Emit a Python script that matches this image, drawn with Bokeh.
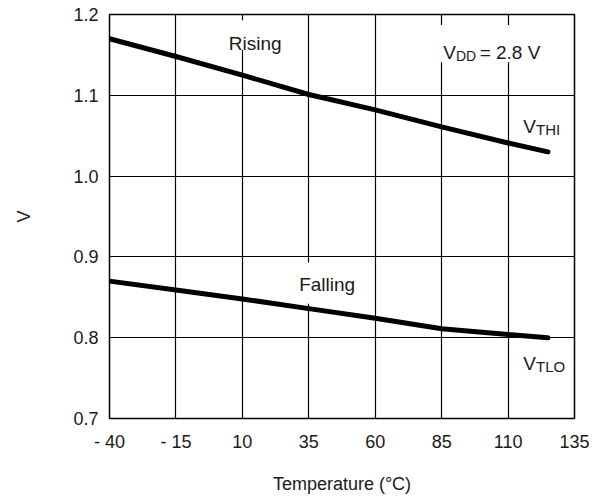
from bokeh.plotting import figure
from bokeh.models import FixedTicker, Label, BoxAnnotation
from bokeh.embed import file_html
from bokeh.resources import INLINE

# ---- data ----
temps = [-40, -15, 10, 35, 60, 85, 110, 125]
v_rising = [1.170, 1.148, 1.125, 1.101, 1.082, 1.061, 1.041, 1.030]
v_falling = [0.870, 0.859, 0.848, 0.836, 0.824, 0.811, 0.804, 0.800]

x_ticks = [-40, -15, 10, 35, 60, 85, 110, 135]
x_tick_labels = ["- 40", "- 15", "10", "35", "60", "85", "110", "135"]
y_ticks = [0.7, 0.8, 0.9, 1.0, 1.1, 1.2]
y_tick_labels = ["0.7", "0.8", "0.9", "1.0", "1.1", "1.2"]

FONT = "Liberation Sans"
TXT = "#1a1a1a"

p = figure(frame_width=465, frame_height=404,
           x_range=(-40, 135), y_range=(0.7, 1.2),
           output_backend="svg", toolbar_location=None,
           min_border_left=109, min_border_right=18,
           min_border_top=14, min_border_bottom=72,
           background_fill_color="white", border_fill_color="white")

p.outline_line_color = "black"
p.outline_line_width = 1.5

for ax, ticks, labels in ((p.xaxis[0], x_ticks, x_tick_labels),
                          (p.yaxis[0], y_ticks, y_tick_labels)):
    ax.ticker = FixedTicker(ticks=ticks)
    ax.major_label_overrides = {t: l for t, l in zip(ticks, labels)}
    ax.axis_line_color = None
    ax.major_tick_line_color = None
    ax.minor_tick_line_color = None
    ax.major_tick_out = 0
    ax.major_tick_in = 0
    ax.major_label_text_font = FONT
    ax.major_label_text_font_size = "18px"
    ax.major_label_text_color = TXT
    ax.axis_label_text_font = FONT
    ax.axis_label_text_font_size = "18px"
    ax.axis_label_text_font_style = "normal"
    ax.axis_label_text_color = TXT

p.xaxis.axis_label = "Temperature (°C)"
p.yaxis.axis_label = "V"
p.xaxis.major_label_standoff = 13
p.xaxis.axis_label_standoff = 19
p.yaxis.major_label_standoff = 11
p.yaxis.axis_label_standoff = 36

p.xgrid.ticker = FixedTicker(ticks=x_ticks)
p.ygrid.ticker = FixedTicker(ticks=y_ticks)
for g in (p.xgrid[0], p.ygrid[0]):
    g.grid_line_color = "black"
    g.grid_line_width = 1.2
    g.grid_line_alpha = 1.0

# white boxes behind in-plot texts (gaps in grid)
for (l, r, b, t) in ((4, 26, 1.156, 1.193),
                     (83, 124, 1.141, 1.187),
                     (30, 53, 0.842, 0.893)):
    p.add_layout(BoxAnnotation(left=l, right=r, bottom=b, top=t,
                               fill_color="white", fill_alpha=1.0,
                               line_color=None, level="underlay"))

p.line(temps, v_rising, line_color="black", line_width=5, line_cap="round")
p.line(temps, v_falling, line_color="black", line_width=5, line_cap="round")

def lab(x, y, text, size="19px", align="left"):
    p.add_layout(Label(x=x, y=y, text=text, text_font=FONT,
                       text_font_size=size, text_color=TXT,
                       text_align=align, text_baseline="alphabetic"))

lab(14.8, 1.164, "Rising", align="center")
lab(41.9, 0.866, "Falling", align="center")

# V_DD = 2.8 V
lab(85.6, 1.153, "V")
lab(90.4, 1.1488, "DD", size="14px")
lab(99.3, 1.153, "= 2.8 V")

# V_THI
lab(115.7, 1.0618, "V")
lab(120.5, 1.0577, "THI", size="15px")

# V_TLO
lab(115.7, 0.768, "V")
lab(120.5, 0.7639, "TLO", size="15px")

open("out.html", "w").write(file_html(p, INLINE))
